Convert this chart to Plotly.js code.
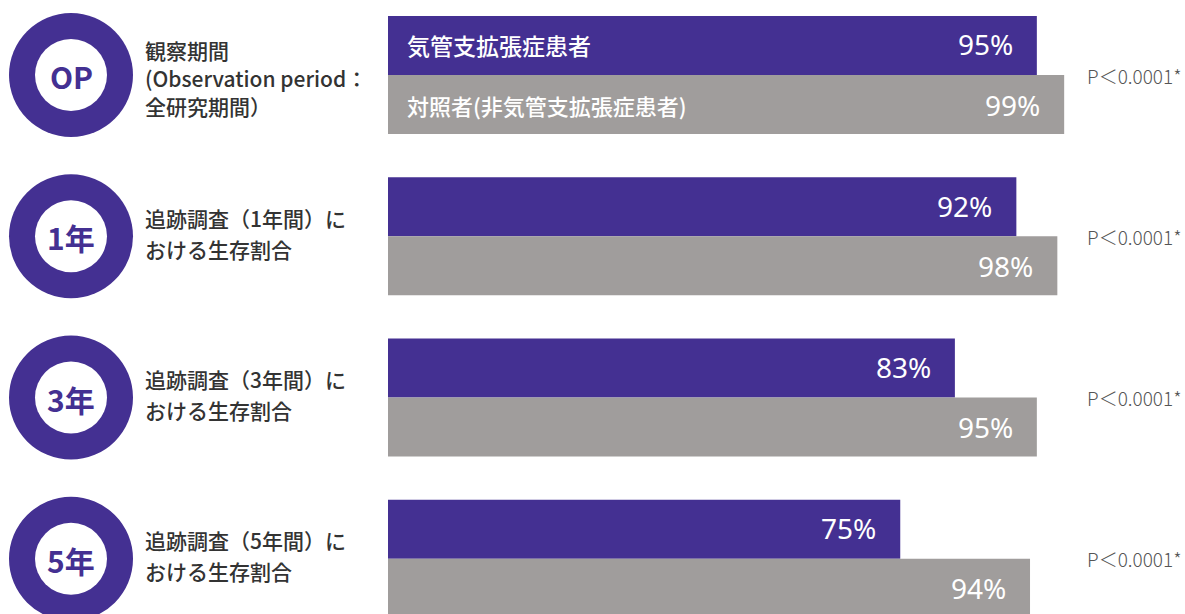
<!DOCTYPE html>
<html>
<head>
<meta charset="utf-8">
<script src="https://cdn.plot.ly/plotly-3.0.1.min.js"></script>
<style>html,body{margin:0;padding:0;background:#fff;}#chart{width:1185px;height:614px;}</style>
</head>
<body>
<div id="chart"></div>
<script>
// ---- data ----
const periods = ['OP', '1年', '3年', '5年'];
const periodLabels = [
  ['観察期間', '(Observation period：', '全研究期間）'],
  ['追跡調査（1年間）に', 'おける生存割合'],
  ['追跡調査（3年間）に', 'おける生存割合'],
  ['追跡調査（5年間）に', 'おける生存割合']
];
const seriesNames = ['気管支拡張症患者', '対照者(非気管支拡張症患者)'];
const patients = [95, 92, 83, 75];
const controls = [99, 98, 95, 94];
const pValues = ['P＜0.0001*', 'P＜0.0001*', 'P＜0.0001*', 'P＜0.0001*'];

// ---- style ----
const PURPLE = '#443092';
const GRAY = '#A09D9C';
const JP = '"Noto Sans CJK JP", "Noto Sans", sans-serif';
const NUM = '"Noto Sans", "Open Sans", sans-serif';
const idx = periods.map((_, i) => i);
const BAR_OFF = 0.183;

const traces = [
  {type: 'bar', orientation: 'h', name: seriesNames[0], x: patients, y: idx.map(i => i - BAR_OFF),
   width: 2 * BAR_OFF, marker: {color: PURPLE}, hoverinfo: 'x'},
  {type: 'bar', orientation: 'h', name: seriesNames[1], x: controls, y: idx.map(i => i + BAR_OFF),
   width: 2 * BAR_OFF, marker: {color: GRAY}, hoverinfo: 'x'}
];

const annotations = [];
const shapes = [];
idx.forEach(i => {
  // value labels
  annotations.push({x: patients[i], y: i - BAR_OFF, xref: 'x', yref: 'y', text: patients[i] + '%',
    xanchor: 'right', yanchor: 'middle', xshift: -22, yshift: 1, showarrow: false,
    font: {family: NUM, size: 28, color: '#ffffff', weight: 400}});
  annotations.push({x: controls[i], y: i + BAR_OFF, xref: 'x', yref: 'y', text: controls[i] + '%',
    xanchor: 'right', yanchor: 'middle', xshift: -22, yshift: 0, showarrow: false,
    font: {family: NUM, size: 28, color: '#ffffff', weight: 400}});
  // p values
  annotations.push({x: 1, y: i, xref: 'paper', yref: 'y', text: pValues[i], xanchor: 'right',
    yanchor: 'middle', xshift: 113, showarrow: false, font: {family: JP, size: 19, color: '#555555', weight: 300}});
  // circle labels
  annotations.push({x: 0, y: i, xref: 'paper', yref: 'y', text: '<b>' + periods[i] + '</b>', xanchor: 'center',
    yanchor: 'middle', xshift: -317, yshift: -1, showarrow: false, font: {family: JP, size: 30, color: PURPLE}});
  // period text
  const lines = periodLabels[i];
  const gap = lines.length === 3 ? 28 : 31;
  lines.forEach((ln, k) => {
    annotations.push({x: 0, y: i, xref: 'paper', yref: 'y', text: ln, xanchor: 'left', yanchor: 'middle',
      xshift: -245, yshift: -((k - (lines.length - 1) / 2) * gap) + (lines.length === 3 ? -3 : 3),
      showarrow: false, font: {family: JP, size: 21, color: '#333333', weight: 500}});
  });
  // circles
  shapes.push({type: 'circle', xref: 'paper', yref: 'y', xsizemode: 'pixel', ysizemode: 'pixel',
    xanchor: 0, yanchor: i, x0: -317 - 62, x1: -317 + 62, y0: -62, y1: 62,
    fillcolor: PURPLE, line: {width: 0}, layer: 'below'});
  shapes.push({type: 'circle', xref: 'paper', yref: 'y', xsizemode: 'pixel', ysizemode: 'pixel',
    xanchor: 0, yanchor: i, x0: -317 - 36, x1: -317 + 36, y0: -36, y1: 36,
    fillcolor: '#ffffff', line: {width: 0}, layer: 'below'});
});
// series names inside the OP bars
annotations.push({x: 0, y: -BAR_OFF, xref: 'x', yref: 'y', text: seriesNames[0], xanchor: 'left', yanchor: 'middle',
  xshift: 17, showarrow: false, font: {family: JP, size: 23, color: '#ffffff', weight: 500}});
annotations.push({x: 0, y: BAR_OFF, xref: 'x', yref: 'y', text: seriesNames[1], xanchor: 'left', yanchor: 'middle',
  xshift: 17, showarrow: false, font: {family: JP, size: 22, color: '#ffffff', weight: 500}});

const layout = {
  width: 1185, height: 614,
  margin: {l: 388, r: 114, t: 0, b: 0, pad: 0},
  paper_bgcolor: '#ffffff', plot_bgcolor: '#ffffff',
  showlegend: false,
  xaxis: {range: [0, 100], visible: false, fixedrange: true},
  yaxis: {range: [3.342, -0.465], visible: false, fixedrange: true},
  shapes: shapes,
  annotations: annotations
};

Plotly.newPlot('chart', traces, layout, {displayModeBar: false, staticPlot: true});
</script>
</body>
</html>
